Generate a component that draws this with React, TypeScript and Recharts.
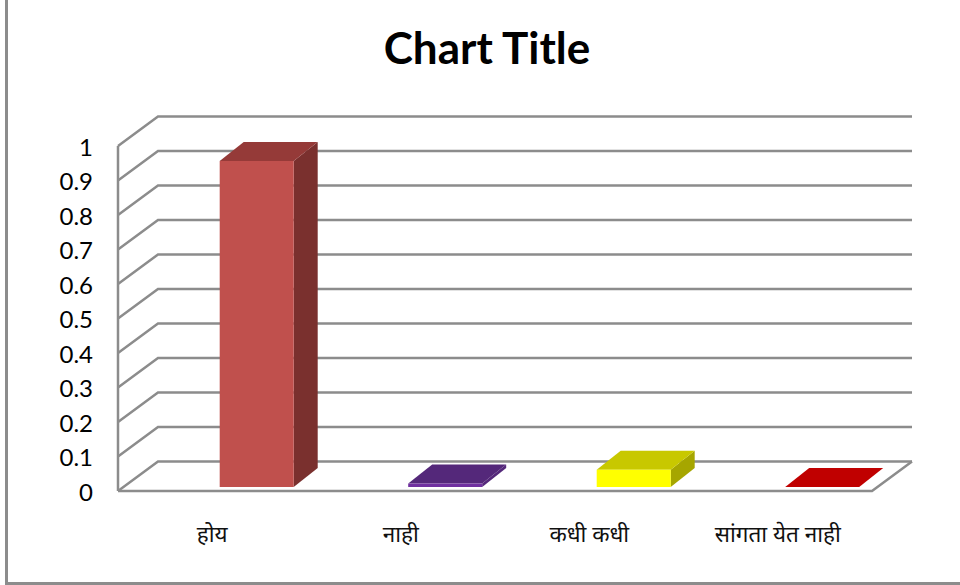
import React from "react";
import { ComposedChart, Bar, XAxis, YAxis, CartesianGrid } from "recharts";

const categories = ["होय", "नाही", "कधी कधी", "सांगता येत नाही"];
const values = [0.945, 0.01, 0.05, 0];
const yTicks = [0, 0.1, 0.2, 0.3, 0.4, 0.5, 0.6, 0.7, 0.8, 0.9, 1];
const frontColors = ["#C0504D", "#7030A0", "#FFFF00", "#C00000"];
const topColors = ["#953A38", "#54287A", "#C8C800", "#C00000"];
const sideColors = ["#7A302E", "#54287A", "#A6A600", "#900000"];

const rows = categories.map((name, i) => ({ name, value: values[i] }));

const GRID = "#8C8C8C";
const DX = 40;
const DY = -29.5;

function gridLine(p: any) {
  const { x1, x2, y1, y, height, index } = p;
  const isFloor = Math.abs(y1 - (y + height)) < 1;
  const isTop = Math.abs(y1 - y) < 1;
  return (
    <g key={`g-${index}`} fill="none" stroke={GRID} strokeWidth={2.5}>
      <polyline points={`${x1},${y1} ${x1 + DX},${y1 + DY} ${x2 + DX},${y1 + DY}`} />
      {isFloor && (
        <polyline points={`${x1},${y1} ${x2},${y1} ${x2 + DX},${y1 + DY}`} />
      )}
      {isTop && <line x1={x1} y1={y} x2={x1} y2={y + height} />}
    </g>
  );
}

function Bar3D(p: any) {
  const { x, y, width, height, index } = p;
  const bx = x + 44.7;
  const by = y - 4;
  const h = Math.max(height, 0);
  const dx = 24;
  const dy = -19;
  const r = bx + width;
  const b = by + h;
  return (
    <g>
      {h > 0 && (
        <polygon
          points={`${r},${by} ${r + dx},${by + dy} ${r + dx},${b + dy} ${r},${b}`}
          fill={sideColors[index]}
        />
      )}
      <polygon
        points={`${bx},${by} ${bx + dx},${by + dy} ${r + dx},${by + dy} ${r},${by}`}
        fill={topColors[index]}
      />
      {h > 0 && <rect x={bx} y={by} width={width} height={h} fill={frontColors[index]} />}
    </g>
  );
}

function CatTick(p: any) {
  const { x, payload } = p;
  return (
    <text
      x={x}
      y={542}
      textAnchor="middle"
      fontFamily="'Noto Sans', serif"
      fontSize={22.5}
      fill="#111"
    >
      {payload.value}
    </text>
  );
}

export default function App() {
  return (
    <div style={{ position: "absolute", left: 0, top: 0, width: 960, height: 585, background: "#fff" }}>
      <div
        style={{
          position: "absolute",
          left: 5,
          top: 0,
          width: 955,
          height: 585,
          boxSizing: "border-box",
          borderLeft: `3px solid ${GRID}`,
          borderBottom: `3px solid ${GRID}`,
        }}
      />
      <ComposedChart
        width={960}
        height={585}
        data={rows}
        margin={{ top: 146, right: 88, bottom: 0, left: 0 }}
        style={{ position: "absolute", left: 0, top: 0 }}
      >
        <text
          x={487}
          y={64}
          textAnchor="middle"
          fontFamily="Lato, sans-serif"
          fontWeight={700}
          fontSize={44}
          fill="#000"
        >
          Chart Title
        </text>
        <CartesianGrid horizontal={gridLine} vertical={false} />
        <XAxis
          dataKey="name"
          height={94}
          axisLine={false}
          tickLine={false}
          interval={0}
          tick={<CatTick />}
        />
        <YAxis
          type="number"
          domain={[0, 1]}
          ticks={yTicks}
          width={118}
          axisLine={false}
          tickLine={false}
          tickSize={0}
          tickMargin={25}
          interval={0}
          tick={{ fontFamily: "Lato, sans-serif", fontSize: 24, fill: "#000", dy: 1 }}
        />
        <Bar dataKey="value" barSize={74} shape={<Bar3D />} isAnimationActive={false} />
      </ComposedChart>
    </div>
  );
}
